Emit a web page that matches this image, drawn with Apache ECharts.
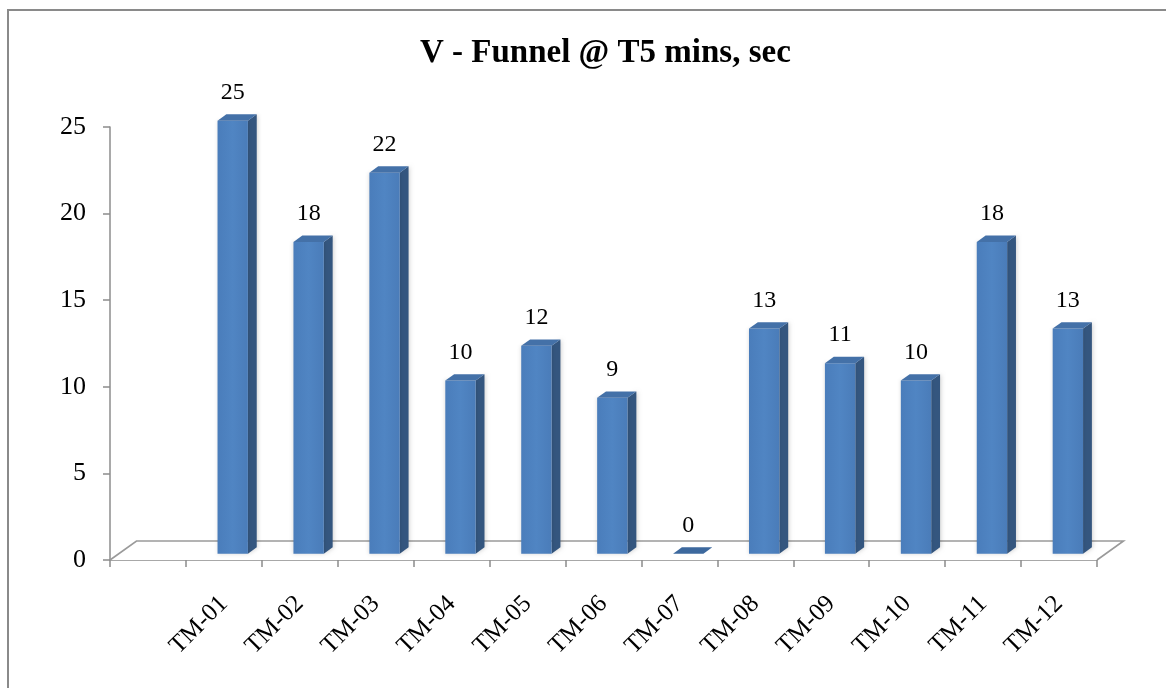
<!DOCTYPE html>
<html>
<head>
<meta charset="utf-8">
<script src="https://cdn.jsdelivr.net/npm/echarts@6/dist/echarts.min.js"></script>
<style>
  html, body { margin: 0; padding: 0; background: #ffffff; }
  #chart { width: 1166px; height: 688px; }
</style>
</head>
<body>
<div id="chart"></div>
<script>
// Categories (the first slot is an empty gap on the category axis)
const categories = ['', 'TM-01', 'TM-02', 'TM-03', 'TM-04', 'TM-05', 'TM-06',
                    'TM-07', 'TM-08', 'TM-09', 'TM-10', 'TM-11', 'TM-12'];
// Time in seconds for each category
const values = [null, 25, 18, 22, 10, 12, 9, 0, 13, 11, 10, 18, 13];
// Value axis ticks
const yMin = 0;
const yMax = 25;
const yStep = 5;

const titleText = 'V - Funnel @ T5 mins, sec';

// Screen-space depth of the 3D floor (x to the right, y upwards)
const DEPTH = [26.5, -19];
const SERIF = '"Liberation Serif", "Times New Roman", serif';

const chart = echarts.init(document.getElementById('chart'), null, { renderer: 'canvas' });

function renderFloor(params, api) {
  const cs = params.coordSys;
  const x0 = cs.x, x1 = cs.x + cs.width, y0 = cs.y + cs.height;
  const dx = DEPTH[0], dy = DEPTH[1];
  const lineStyle = { stroke: '#9a9a9a', lineWidth: 1.6, fill: null };
  return {
    type: 'group',
    children: [
      { type: 'polygon', shape: { points: [[x0, y0], [x1, y0], [x1 + dx, y0 + dy], [x0 + dx, y0 + dy]] },
        style: { fill: '#ffffff' } },
      { type: 'polyline', shape: { points: [[x0, y0], [x0 + dx, y0 + dy], [x1 + dx, y0 + dy], [x1, y0]] },
        style: lineStyle }
    ]
  };
}

function renderBar(params, api) {
  const idx = api.value(0);
  const val = api.value(1);
  const base = api.coord([idx, 0]);
  const top = api.coord([idx, val]);
  const band = api.size([1, 0])[0];
  const w = band * 0.4;
  const ox = DEPTH[0] / 3, oy = DEPTH[1] / 3;
  const x0 = base[0] + ox - w / 2, x1 = x0 + w;
  const yb = base[1] + oy, yt = top[1] + oy;
  const children = [];
  if (yb - yt > 0.5) {
    children.push({
      type: 'polygon',
      shape: { points: [[x1, yb], [x1, yt], [x1 + ox, yt + oy], [x1 + ox, yb + oy]] },
      style: { fill: '#34567f', shadowBlur: 4, shadowColor: 'rgba(0,0,0,0.18)', shadowOffsetX: 1 }
    });
    children.push({
      type: 'rect',
      shape: { x: x0, y: yt, width: w, height: yb - yt },
      style: {
        fill: new echarts.graphic.LinearGradient(0, 0, 1, 0, [
          { offset: 0, color: '#4a7dbb' },
          { offset: 0.5, color: '#5085c3' },
          { offset: 1, color: '#4a7cb9' }
        ]),
        shadowBlur: 4, shadowColor: 'rgba(0,0,0,0.15)'
      }
    });
  }
  children.push({
    type: 'polygon',
    shape: { points: [[x0, yt], [x1, yt], [x1 + ox, yt + oy], [x0 + ox, yt + oy]] },
    style: { fill: val > 0 ? '#4471a8' : '#3d699e' }
  });
  children.push({
    type: 'text',
    style: {
      x: (x0 + x1) / 2, y: yt - 16,
      text: String(val),
      align: 'center', verticalAlign: 'bottom',
      font: '24px ' + SERIF, fill: '#000000'
    }
  });
  return { type: 'group', children: children };
}

const barData = values
  .map((v, i) => [i, v])
  .filter(d => d[1] !== null);

const axisLine = { lineStyle: { color: '#8c8c8c', width: 1.5 } };

chart.setOption({
  animation: false,
  backgroundColor: '#ffffff',
  graphic: [{
    type: 'rect',
    shape: { x: 8, y: 10, width: 1200, height: 720 },
    style: { fill: null, stroke: '#8a8a8a', lineWidth: 2 },
    silent: true
  }],
  title: {
    text: titleText,
    left: 415,
    top: 32,
    textStyle: { fontFamily: SERIF, fontSize: 33, fontWeight: 'bold', color: '#000000' }
  },
  grid: { left: 110, right: 69, top: 127, bottom: 128, containLabel: false },
  xAxis: {
    type: 'category',
    data: categories,
    boundaryGap: true,
    axisLine: axisLine,
    axisTick: { show: true, length: 7, lineStyle: { color: '#8c8c8c', width: 1.5 } },
    axisLabel: {
      interval: 0, rotate: 45, margin: 40,
      fontFamily: SERIF, fontSize: 25, color: '#000000'
    },
    splitLine: { show: false }
  },
  yAxis: {
    type: 'value',
    min: yMin, max: yMax, interval: yStep,
    axisLine: { show: true, lineStyle: { color: '#8c8c8c', width: 1.5 } },
    axisTick: { show: true, length: 7, lineStyle: { color: '#8c8c8c', width: 1.5 } },
    axisLabel: { margin: 24, fontFamily: SERIF, fontSize: 26, color: '#000000' },
    splitLine: { show: false }
  },
  series: [
    { type: 'custom', z: 1, renderItem: renderFloor, data: [[0, 0]], silent: true, clip: false },
    { type: 'custom', z: 2, renderItem: renderBar, data: barData, encode: { x: 0, y: 1 }, clip: false }
  ]
});
</script>
</body>
</html>
